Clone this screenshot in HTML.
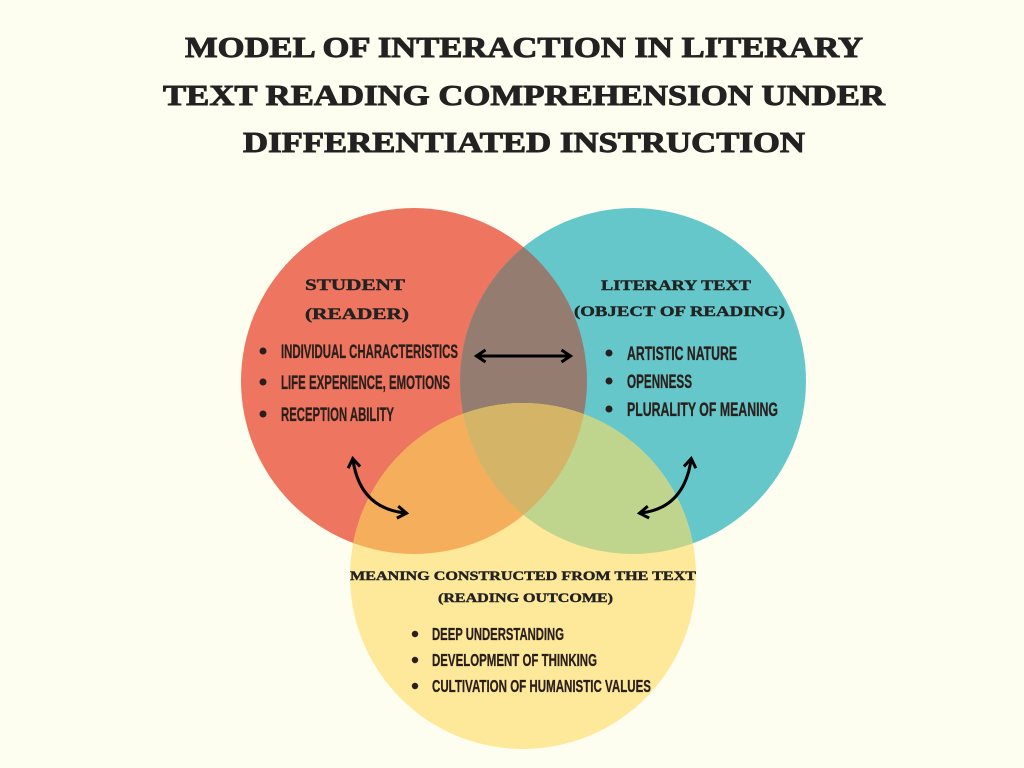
<!DOCTYPE html>
<html><head><meta charset="utf-8"><style>
html,body{margin:0;padding:0;background:#FDFEF0;}
svg{display:block}
.t{font-family:"Liberation Serif",serif;font-weight:bold;fill:#222;stroke:#222;stroke-width:0.9;}
.h{font-family:"Liberation Serif",serif;font-weight:bold;fill:#222;stroke:#222;stroke-width:0.4;}
.c{font-family:"Liberation Sans Narrow","Liberation Sans",sans-serif;font-weight:bold;fill:#2a1f1c;stroke:#2a1f1c;stroke-width:0.3;}
</style></head><body>
<svg width="1024" height="768" viewBox="0 0 1024 768">
<defs>
<clipPath id="R"><circle cx="414" cy="381" r="173"/></clipPath>
<clipPath id="T"><circle cx="633" cy="381" r="173"/></clipPath>
<marker id="a" viewBox="0 0 10 10" refX="6" refY="5" markerWidth="5" markerHeight="5" orient="auto-start-reverse"><path d="M1,1 L7,5 L1,9" fill="none" stroke="#000" stroke-width="2"/></marker>
</defs>
<rect width="1024" height="768" fill="#FDFEF0"/>
<text class="t" x="185" y="57" font-size="28" textLength="678" lengthAdjust="spacingAndGlyphs">MODEL OF INTERACTION IN LITERARY</text>
<text class="t" x="163" y="105" font-size="28" textLength="722" lengthAdjust="spacingAndGlyphs">TEXT READING COMPREHENSION UNDER</text>
<text class="t" x="243" y="152" font-size="28" textLength="562" lengthAdjust="spacingAndGlyphs">DIFFERENTIATED INSTRUCTION</text>

<circle cx="414" cy="381" r="173" fill="#EE7560"/>
<circle cx="633" cy="381" r="173" fill="#66C7CB"/>
<circle cx="523" cy="576" r="173" fill="#FEE899"/>
<g clip-path="url(#R)"><circle cx="633" cy="381" r="173" fill="#957C71"/><circle cx="523" cy="576" r="173" fill="#F5AE5C"/></g>
<g clip-path="url(#T)"><circle cx="523" cy="576" r="173" fill="#BFD58E"/></g>
<g clip-path="url(#R)"><g clip-path="url(#T)"><circle cx="523" cy="576" r="173" fill="#D4B466"/></g></g>

<text class="h" x="305" y="290" font-size="16" textLength="100" lengthAdjust="spacingAndGlyphs">STUDENT</text>
<text class="h" x="305" y="319" font-size="16" textLength="104" lengthAdjust="spacingAndGlyphs">(READER)</text>
<text class="h" x="601" y="290" font-size="15" textLength="150" lengthAdjust="spacingAndGlyphs">LITERARY TEXT</text>
<text class="h" x="574" y="316" font-size="15" textLength="211" lengthAdjust="spacingAndGlyphs">(OBJECT OF READING)</text>

<g fill="#2a1f1c">
<circle cx="263" cy="351" r="3.5"/><circle cx="263" cy="382" r="3.5"/><circle cx="263" cy="414" r="3.5"/>
<circle cx="609" cy="353" r="3.5"/><circle cx="609" cy="381" r="3.5"/><circle cx="609" cy="409" r="3.5"/>
<circle cx="415" cy="634" r="3.2"/><circle cx="415" cy="660" r="3.2"/><circle cx="415" cy="686" r="3.2"/>
</g>
<text class="c" x="281" y="358" font-size="19" textLength="177" lengthAdjust="spacingAndGlyphs">INDIVIDUAL CHARACTERISTICS</text>
<text class="c" x="281" y="389" font-size="19" textLength="169" lengthAdjust="spacingAndGlyphs">LIFE EXPERIENCE, EMOTIONS</text>
<text class="c" x="281" y="421" font-size="19" textLength="113" lengthAdjust="spacingAndGlyphs">RECEPTION ABILITY</text>
<text class="c" x="627" y="360" font-size="19" textLength="110" lengthAdjust="spacingAndGlyphs">ARTISTIC NATURE</text>
<text class="c" x="627" y="388" font-size="19" textLength="65" lengthAdjust="spacingAndGlyphs">OPENNESS</text>
<text class="c" x="627" y="416" font-size="19" textLength="151" lengthAdjust="spacingAndGlyphs">PLURALITY OF MEANING</text>

<text class="h" x="350" y="580" font-size="12.5" textLength="346" lengthAdjust="spacingAndGlyphs">MEANING CONSTRUCTED FROM THE TEXT</text>
<text class="h" x="438" y="602" font-size="12.5" textLength="175" lengthAdjust="spacingAndGlyphs">(READING OUTCOME)</text>
<text class="c" x="432" y="640" font-size="17.5" textLength="132" lengthAdjust="spacingAndGlyphs">DEEP UNDERSTANDING</text>
<text class="c" x="432" y="666" font-size="17.5" textLength="165" lengthAdjust="spacingAndGlyphs">DEVELOPMENT OF THINKING</text>
<text class="c" x="432" y="692" font-size="17.5" textLength="219" lengthAdjust="spacingAndGlyphs">CULTIVATION OF HUMANISTIC VALUES</text>

<g fill="none" stroke="#000" stroke-width="3" stroke-linecap="round">
<line x1="478" y1="356" x2="569" y2="356" marker-start="url(#a)" marker-end="url(#a)"/>
<path d="M353,460 Q360,508 405,513" marker-start="url(#a)" marker-end="url(#a)"/>
<path d="M691,460 Q684,508 641,513" marker-start="url(#a)" marker-end="url(#a)"/>
</g>
</svg>
</body></html>
